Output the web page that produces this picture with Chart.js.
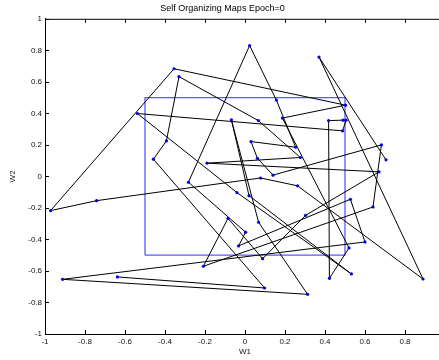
<!DOCTYPE html>
<html>
<head>
<meta charset="utf-8">
<script src="https://cdn.jsdelivr.net/npm/chart.js@4.4.1/dist/chart.umd.min.js"></script>
<style>
html,body{margin:0;padding:0;background:#fff;overflow:hidden;width:439px;height:360px;}
canvas{display:block;}
</style>
</head>
<body>
<canvas id="c" width="490" height="360"></canvas>
<script>
// Neuron weights along the 1-D chain (in chain order)
const w1 = [-0.638,0.098,-0.458,-0.393,-0.33,0.067,0.277,-0.19,0.67,0.303,0.088,-0.085,-0.208,0.64,0.682,0.14,0.062,0.03,0.253,0.157,0.023,-0.283,0.003,-0.032,0.527,0.6,-0.912,0.313,0.068,-0.068,0.02,0.532,-0.04,-0.538,0.488,0.505,0.49,0.418,0.422,0.52,0.187,0.503,-0.355,-0.972,-0.742,0.078,0.263,0.89,0.37,0.705];
const w2 = [-0.638,-0.708,0.109,0.225,0.633,0.354,0.12,0.084,0.029,-0.247,-0.522,-0.266,-0.57,-0.194,0.2,0.008,0.115,0.221,0.185,0.484,0.83,-0.037,-0.354,-0.441,-0.145,-0.416,-0.653,-0.748,-0.291,0.359,-0.122,-0.619,-0.103,0.399,0.289,0.357,0.357,0.354,-0.647,-0.454,0.37,0.452,0.683,-0.217,-0.154,-0.01,-0.06,-0.651,0.757,0.105];
// Input-space boundary square
const boxX = [-0.5, 0.5, 0.5, -0.5, -0.5];
const boxY = [-0.5, -0.5, 0.5, 0.5, -0.5];
const tickValues = [-1,-0.8,-0.6,-0.4,-0.2,0,0.2,0.4,0.6,0.8,1];

const chainPts = w1.map((x,i)=>({x:x,y:w2[i]}));
const boxPts = boxX.map((x,i)=>({x:x,y:boxY[i]}));

const FONT = "'Liberation Sans', Arial, Helvetica, sans-serif";
const fmt = v => { const r = Math.round(v*10)/10; return (r===0?0:r).toString(); };

const matlabBox = {
  id:'matlabBox',
  afterDraw(chart){
    const {ctx, chartArea:a} = chart;
    const xs = chart.scales.x, ys = chart.scales.y;
    ctx.save();
    ctx.strokeStyle = '#000';
    ctx.lineWidth = 1;
    ctx.beginPath();
    ctx.moveTo(a.left, a.top+0.5); ctx.lineTo(a.right, a.top+0.5);
    xs.ticks.forEach(t=>{
      const px = Math.round(xs.getPixelForValue(t.value))+0.5;
      ctx.moveTo(px, a.bottom); ctx.lineTo(px, a.bottom-4);
      ctx.moveTo(px, a.top); ctx.lineTo(px, a.top+4);
    });
    ys.ticks.forEach(t=>{
      const py = Math.round(ys.getPixelForValue(t.value))+0.5;
      ctx.moveTo(a.left, py); ctx.lineTo(a.left+4, py);
      ctx.moveTo(a.right, py); ctx.lineTo(a.right-4, py);
    });
    ctx.stroke();
    ctx.restore();
  }
};

new Chart(document.getElementById('c'), {
  type:'scatter',
  data:{
    datasets:[
      {
        data: chainPts,
        showLine:true,
        borderColor:'#000',
        borderWidth:1,
        pointRadius:1.6,
        pointBackgroundColor:'#0000e0',
        pointBorderColor:'#0000e0',
        pointBorderWidth:0,
        order:1
      },
      {
        data: boxPts,
        showLine:true,
        borderColor:'#5a5aff',
        borderWidth:1.3,
        pointRadius:0,
        order:2
      }
    ]
  },
  options:{
    responsive:false,
    animation:false,
    devicePixelRatio:1,
    layout:{padding:{left:0,right:45,top:0,bottom:0}},
    plugins:{
      legend:{display:false},
      tooltip:{enabled:false},
      title:{
        display:true,
        text:'Self Organizing Maps Epoch=0',
        color:'#000',
        font:{family:FONT,size:9,weight:'normal'},
        padding:{top:3,bottom:5}
      }
    },
    scales:{
      x:{
        type:'linear', min:-1, max:1,
        afterFit(s){ s.height = 26; },
        afterBuildTicks(s){ s.ticks = tickValues.map(v=>({value:v})); },
        grid:{display:false, drawTicks:false},
        border:{display:true,color:'#000',width:1},
        ticks:{color:'#111',font:{family:FONT,size:8},padding:3,maxRotation:0,autoSkip:false,callback:fmt},
        title:{display:true,text:'W1',color:'#111',font:{family:FONT,size:8},padding:{top:0,bottom:3}}
      },
      y:{
        type:'linear', min:-1, max:1,
        afterFit(s){ s.width = 45; },
        afterBuildTicks(s){ s.ticks = tickValues.map(v=>({value:v})); },
        grid:{display:false, drawTicks:false},
        border:{display:true,color:'#000',width:1},
        ticks:{color:'#111',font:{family:FONT,size:8},padding:3,autoSkip:false,callback:fmt},
        title:{display:true,text:'W2',color:'#111',font:{family:FONT,size:8},padding:{top:8,bottom:0}}
      }
    }
  },
  plugins:[matlabBox]
});
</script>
</body>
</html>
